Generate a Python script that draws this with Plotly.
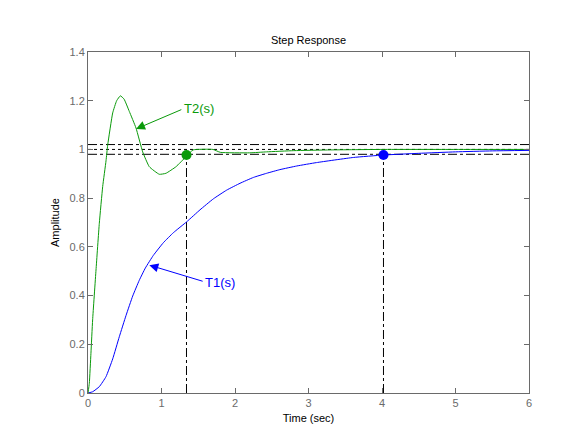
import plotly.graph_objects as go

# T1(s) step response
t1 = [0, 0.063, 0.154, 0.245, 0.336, 0.426, 0.517, 0.608, 0.698, 0.78, 0.889, 1.025, 1.161,
      1.343, 1.524, 1.705, 1.887, 2.068, 2.25, 2.43, 2.61, 2.84, 3.11, 3.61, 4.02, 4.5, 5.0, 5.5, 6.0]
y1 = [0, 0.005, 0.026, 0.067, 0.140, 0.231, 0.318, 0.398, 0.463, 0.513, 0.565, 0.617, 0.658,
      0.703, 0.752, 0.797, 0.833, 0.861, 0.885, 0.902, 0.917, 0.932, 0.946, 0.967, 0.977, 0.984, 0.990, 0.994, 0.996]

# T2(s) step response
t2 = [0, 0.018, 0.04, 0.063, 0.109, 0.154, 0.2, 0.245, 0.268, 0.336, 0.39, 0.44, 0.49, 0.562, 0.653,
      0.744, 0.834, 0.97, 1.06, 1.197, 1.333, 1.43, 1.7, 1.8, 2.2, 2.43, 2.8, 3.3, 4.0, 5.0, 6.0]
y2 = [0, 0.04, 0.163, 0.30, 0.505, 0.697, 0.848, 0.953, 1.018, 1.150, 1.200, 1.220, 1.207, 1.156, 1.088,
      0.99, 0.929, 0.898, 0.902, 0.929, 0.970, 0.998, 1.0, 0.988, 0.986, 0.99, 0.995, 0.998, 1.0, 1.0, 1.0]

# settling points
settle_t = [1.34, 4.02]
settle_y = [0.977, 0.977]

# reference band
band_lo, band_mid, band_hi = 0.98, 1.0, 1.02
x_range = [0, 6]
y_range = [0, 1.4]
x_ticks = [0, 1, 2, 3, 4, 5, 6]
y_ticks = [0, 0.2, 0.4, 0.6, 0.8, 1.0, 1.2, 1.4]
y_tick_text = ["0", "0.2", "0.4", "0.6", "0.8", "1", "1.2", "1.4"]

GREEN = "#0a9a0a"
BLUE = "#0000ff"
AXC = "#6a6a6a"
FONT = "Liberation Sans, Arial, sans-serif"

W, H = 568, 426  # page body adds 8px margin

fig = go.Figure()

# band lines
fig.add_trace(go.Scatter(x=x_range, y=[band_hi, band_hi], mode="lines",
                         line=dict(color="black", width=1, dash="dashdot"), hoverinfo="skip"))
fig.add_trace(go.Scatter(x=x_range, y=[band_lo, band_lo], mode="lines",
                         line=dict(color="black", width=1, dash="dashdot"), hoverinfo="skip"))
fig.add_trace(go.Scatter(x=x_range, y=[band_mid, band_mid], mode="lines",
                         line=dict(color="black", width=1, dash="dot"), hoverinfo="skip"))

# vertical settling lines
for st, sy in zip(settle_t, settle_y):
    fig.add_trace(go.Scatter(x=[st, st], y=[0, sy], mode="lines",
                             line=dict(color="black", width=1, dash="dashdot"), hoverinfo="skip"))

fig.add_trace(go.Scatter(x=t1, y=y1, mode="lines", line=dict(color=BLUE, width=1, shape="spline", smoothing=0.4)))
fig.add_trace(go.Scatter(x=t2, y=y2, mode="lines", line=dict(color=GREEN, width=1, shape="spline", smoothing=0.4)))

fig.add_trace(go.Scatter(x=[settle_t[0]], y=[settle_y[0]], mode="markers",
                         marker=dict(color=GREEN, size=10)))
fig.add_trace(go.Scatter(x=[settle_t[1]], y=[settle_y[1]], mode="markers",
                         marker=dict(color=BLUE, size=10)))

# arrows
fig.add_annotation(x=0.653, y=1.084, ax=1.29, ay=1.166, axref="x", ayref="y", xref="x", yref="y",
                   text="", showarrow=True, arrowhead=2, arrowsize=1.8, arrowwidth=1, arrowcolor=GREEN)
fig.add_annotation(x=1.28, y=1.168, text="T2(s)", showarrow=False, xanchor="left", yanchor="middle",
                   font=dict(color=GREEN, size=13, family=FONT))
fig.add_annotation(x=0.834, y=0.525, ax=1.58, ay=0.457, axref="x", ayref="y", xref="x", yref="y",
                   text="", showarrow=True, arrowhead=2, arrowsize=1.8, arrowwidth=1, arrowcolor=BLUE)
fig.add_annotation(x=1.57, y=0.452, text="T1(s)", showarrow=False, xanchor="left", yanchor="middle",
                   font=dict(color=BLUE, size=13, family=FONT))

axis_common = dict(showgrid=False, zeroline=False, showline=True, linecolor=AXC, linewidth=1,
                   mirror="ticks", ticks="inside", ticklen=5, tickcolor=AXC,
                   tickfont=dict(color=AXC, size=11, family=FONT))

fig.update_layout(
    width=W, height=H,
    margin=dict(l=80, r=W - 80 - 441, t=44, b=H - 44 - 341),
    paper_bgcolor="white", plot_bgcolor="white",
    showlegend=False,
    font=dict(family=FONT, size=11, color="black"),
    title=dict(text="Step Response", x=(80 + 80 + 441) / 2 / W, xanchor="center", y=1 - 32 / H, yanchor="middle",
               font=dict(size=11, color="black", family=FONT)),
    xaxis=dict(range=x_range, tickvals=x_ticks, title=dict(text="Time (sec)", standoff=6,
               font=dict(size=11, color="black", family=FONT)), **axis_common),
    yaxis=dict(range=y_range, tickvals=y_ticks, ticktext=y_tick_text, title=dict(text="Amplitude", standoff=7,
               font=dict(size=11, color="black", family=FONT)), **axis_common),
)

fig.write_html("out.html")
